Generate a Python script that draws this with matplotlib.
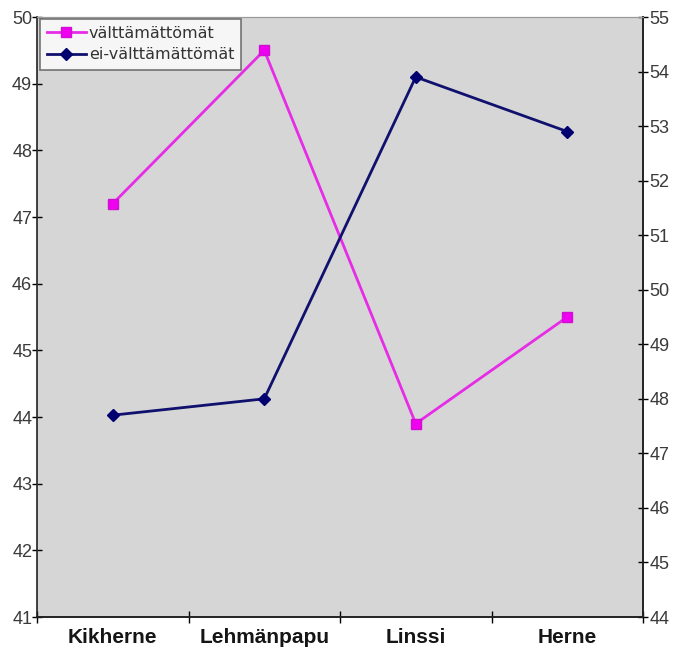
import numpy as np
import matplotlib
matplotlib.use('Agg')
import matplotlib.pyplot as plt

# Data
categories = ['Kikherne', 'Lehmänpapu', 'Linssi', 'Herne']
valttamattomat = [47.2, 49.5, 43.9, 45.5]        # left axis
ei_valttamattomat = [47.7, 48.0, 53.9, 52.9]     # right axis

left_ticks = list(range(41, 51))
right_ticks = list(range(44, 56))

plt.rcParams['font.family'] = ['Liberation Sans', 'DejaVu Sans']

fig = plt.figure(figsize=(6.78, 6.49), dpi=100)
fig.patch.set_facecolor('white')
ax = fig.add_axes([37/678, 32/649, 606/678, 600/649])
ax.set_facecolor('#d6d6d6')
ax2 = ax.twinx()

x = np.arange(len(categories)) + 0.5

l1, = ax.plot(x, valttamattomat, '-s', color='#e62ce6', linewidth=2.0,
              markersize=7, markerfacecolor='#f000f0', markeredgecolor='#d010d0',
              label='välttämättömät')
l2, = ax2.plot(x, ei_valttamattomat, '-D', color='#10106e', linewidth=2.0,
               markersize=6, markerfacecolor='#000070', markeredgecolor='#000070',
               label='ei-välttämättömät')

ax.set_xlim(0, len(categories))
ax.set_ylim(41, 50)
ax2.set_ylim(44, 55)

ax.set_yticks(left_ticks)
ax.set_yticklabels([str(v) for v in left_ticks], fontsize=13, color='#3a3a3a')
ax2.set_yticks(right_ticks)
ax2.set_yticklabels([str(v) for v in right_ticks], fontsize=13, color='#3a3a3a')

ax.set_xticks(np.arange(len(categories) + 1))
ax.set_xticklabels([])
ax.set_xticks(x, minor=True)
ax.set_xticklabels(categories, minor=True, fontsize=15, fontweight='bold',
                   color='#151515')
ax.tick_params(axis='x', which='minor', length=0, pad=8)
ax.tick_params(axis='x', which='major', direction='inout', length=8, width=1)
ax.tick_params(axis='y', direction='inout', length=7, width=1, pad=0)
ax2.tick_params(axis='y', direction='inout', length=7, width=1, pad=1)

for a in (ax, ax2):
    a.spines['top'].set_color('#9a9a9a')
    a.spines['top'].set_linewidth(0.8)
    for s in ('left', 'right', 'bottom'):
        a.spines[s].set_color('#222222')
        a.spines[s].set_linewidth(1.2)
ax2.spines['left'].set_visible(False)

leg = ax2.legend(handles=[l1, l2], loc='upper left', bbox_to_anchor=(0.005, 0.997),
                 prop={'family': 'DejaVu Sans', 'size': 11.5},
                 frameon=True, fancybox=False, borderpad=0.45,
                 handlelength=2.4, handletextpad=0.2, labelspacing=0.4,
                 borderaxespad=0)
leg.get_frame().set_edgecolor('#555555')
leg.get_frame().set_facecolor('white')
leg.get_frame().set_linewidth(1.2)
for t in leg.get_texts():
    t.set_color('#333333')

fig.savefig('out.png', dpi=100)
